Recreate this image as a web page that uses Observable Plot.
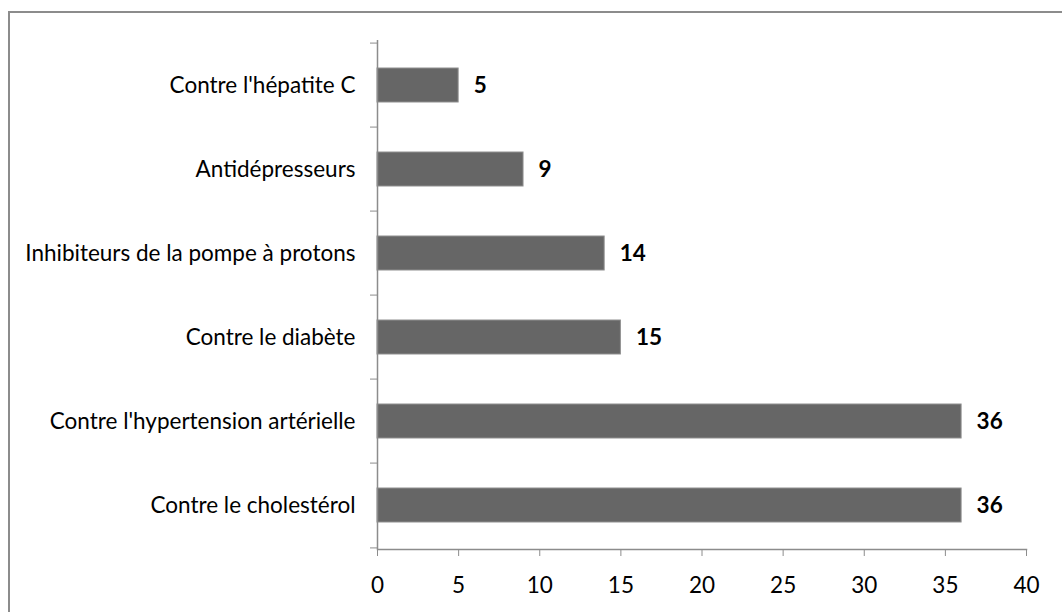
<!DOCTYPE html>
<html>
<head>
<meta charset="utf-8">
<script src="https://cdn.jsdelivr.net/npm/d3@7"></script>
<script src="https://cdn.jsdelivr.net/npm/@observablehq/plot@0.6"></script>
<style>
  html, body { margin: 0; padding: 0; background: #fff; overflow: hidden; }
  #wrap { position: relative; width: 1062px; height: 612px; }
  #border { position: absolute; left: 8px; top: 11px; width: 1200px; height: 800px;
            border: 2px solid #8c8c8c; box-sizing: border-box; }
  #chart { position: absolute; left: 0; top: 0; }
</style>
</head>
<body>
<div id="wrap"><div id="border"></div><div id="chart"></div></div>
<script>
const categories = [
  "Contre l'hépatite C",
  "Antidépresseurs",
  "Inhibiteurs de la pompe à protons",
  "Contre le diabète",
  "Contre l'hypertension artérielle",
  "Contre le cholestérol"
];
const values = [5, 9, 14, 15, 36, 36];
const xTicks = [0, 5, 10, 15, 20, 25, 30, 35, 40];

const data = categories.map((name, i) => ({name, value: values[i]}));
const step = (612 - 40 - 63) / categories.length;

const chart = Plot.plot({
  width: 1062,
  height: 612,
  marginLeft: 377,
  marginRight: 36,
  marginTop: 40,
  marginBottom: 63,
  style: {fontFamily: "Lato, 'Open Sans', sans-serif", background: "transparent", color: "#000"},
  x: {domain: [0, 40]},
  y: {domain: categories, paddingInner: 0.6, paddingOuter: 0.3},
  marks: [
    Plot.barX(data, {x: "value", y: "name", fill: "#666666", stroke: "#8f8f8f", strokeWidth: 1}),
    Plot.text(data, {x: "value", y: "name", text: d => String(d.value), textAnchor: "start",
      dx: 15, fontWeight: "bold", fontSize: 22.5, fill: "#000"}),
    Plot.ruleX([0], {stroke: "#8c8c8c", strokeWidth: 1.5}),
    Plot.frame({anchor: "bottom", stroke: "#8c8c8c", strokeWidth: 1.5}),
    Plot.axisX({ticks: xTicks, tickSize: 7, tickPadding: 21, fontSize: 22.5, stroke: "#8c8c8c", label: null, tickFormat: d => String(d)}),
    Plot.axisY({tickSize: 0, tickPadding: 22, fontSize: 22.5, label: null}),
    Plot.axisY({ticks: categories, tickSize: 7, text: null, dy: -step / 2, stroke: "#8c8c8c", label: null}),
    Plot.axisY({ticks: [categories[categories.length - 1]], tickSize: 7, text: null, dy: step / 2, stroke: "#8c8c8c", label: null})
  ]
});
document.getElementById("chart").appendChild(chart);
</script>
</body>
</html>
